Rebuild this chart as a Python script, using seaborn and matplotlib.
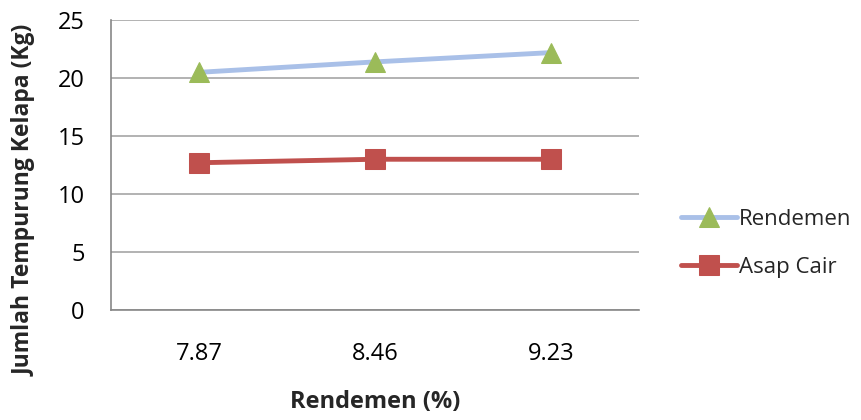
import matplotlib
matplotlib.use("Agg")
import matplotlib.pyplot as plt
import seaborn as sns
import pandas as pd

# data
categories = ["7.87", "8.46", "9.23"]
rendemen = [20.5, 21.4, 22.2]
asap_cair = [12.7, 13.0, 13.0]

df = pd.DataFrame({
    "x": list(range(len(categories))) * 2,
    "value": rendemen + asap_cair,
    "series": ["Rendemen"] * 3 + ["Asap Cair"] * 3,
})

sns.set_style("white")
plt.rcParams["font.family"] = ["Open Sans", "DejaVu Sans"]

fig = plt.figure(figsize=(8.61, 4.2), dpi=100)
ax = fig.add_axes([0.129, 0.262, 0.613, 0.69])

sns.lineplot(data=df[df.series == "Rendemen"], x="x", y="value", ax=ax,
             color="#A9C0E8", linewidth=3.5, marker="^", markersize=15,
             markerfacecolor="#9BBB59", markeredgecolor="#9BBB59",
             label="Rendemen")
sns.lineplot(data=df[df.series == "Asap Cair"], x="x", y="value", ax=ax,
             color="#C0504D", linewidth=3.5, marker="s", markersize=14,
             markerfacecolor="#C0504D", markeredgecolor="#C0504D",
             label="Asap Cair")

ax.set_xlim(-0.5, 2.5)
ax.set_ylim(0, 25)
ax.set_yticks([0, 5, 10, 15, 20, 25])
ax.set_xticks(range(len(categories)))
ax.set_xticklabels(categories)
ax.yaxis.grid(True, color="#A6A6A6", linewidth=1.2)
ax.set_axisbelow(True)
for s in ["top", "right"]:
    ax.spines[s].set_visible(False)
for s in ["left", "bottom"]:
    ax.spines[s].set_color("#878787")
    ax.spines[s].set_linewidth(1.2)
ax.tick_params(axis="both", length=0, labelsize=17, colors="black")
ax.tick_params(axis="x", pad=23)
ax.tick_params(axis="y", pad=19)

ax.set_xlabel("Rendemen (%)", fontsize=17, fontweight="bold")
ax.xaxis.set_label_coords(0.5, -0.317)
ax.xaxis.label.set_va("center")
ax.set_ylabel("Jumlah Tempurung Kelapa (Kg)", fontsize=16.5, fontweight="bold")
ax.yaxis.set_label_coords(-0.163, 0.379)
ax.yaxis.label.set_va("center")

ax.legend(loc="center left", bbox_to_anchor=(0.791, 0.42),
          bbox_transform=fig.transFigure, frameon=False, borderpad=0,
          borderaxespad=0, fontsize=16, handlelength=2.5,
          handletextpad=0.1, labelspacing=1.2)

fig.savefig("out.png", dpi=100)
